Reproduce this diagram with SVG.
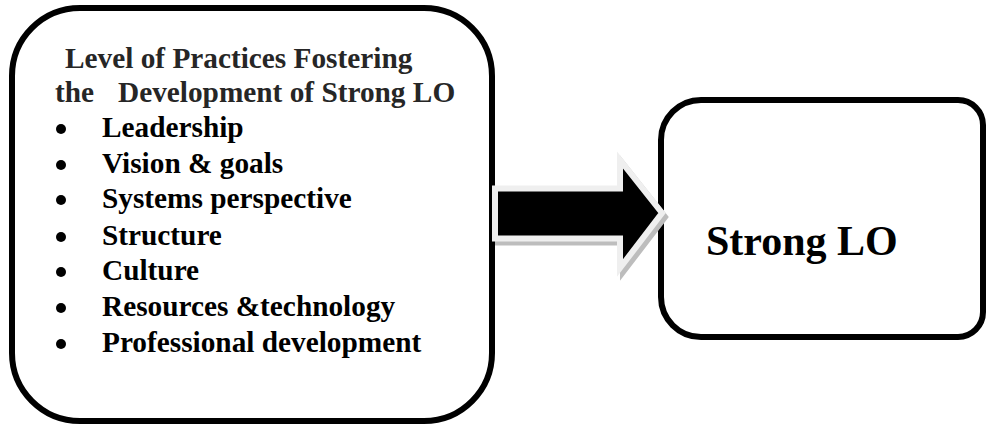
<svg xmlns="http://www.w3.org/2000/svg" width="986" height="425" viewBox="0 0 986 425">
<style>
.box{fill:#fff;stroke:#000;stroke-width:6}
.t{font-family:"Liberation Serif","Times New Roman",serif;font-weight:bold;font-size:29.3px;fill:#000}
.title{fill:#262626}
.bullet{fill:#000}
.big{font-family:"Liberation Serif","Times New Roman",serif;font-weight:bold;font-size:42px;fill:#000}
</style>
<rect width="986" height="425" fill="#fff"/>
<g id="node-practices">
<rect class="box" x="12" y="8" width="480" height="413" rx="68" ry="68"/>
<text class="t title" x="65" y="68">Level of Practices Fostering</text>
<text class="t title" y="102"><tspan x="55">the</tspan><tspan x="118">Development of Strong LO</tspan></text>
<g class="bullet">
<circle cx="61" cy="129" r="5"/>
<circle cx="61" cy="165" r="5"/>
<circle cx="61" cy="200" r="5"/>
<circle cx="61" cy="237" r="5"/>
<circle cx="61" cy="272" r="5"/>
<circle cx="61" cy="308" r="5"/>
<circle cx="61" cy="344" r="5"/>
</g>
<text class="t" x="102" y="137">Leadership</text>
<text class="t" x="102" y="173">Vision &amp; goals</text>
<text class="t" x="102" y="208">Systems perspective</text>
<text class="t" x="102" y="245">Structure</text>
<text class="t" x="102" y="280">Culture</text>
<text class="t" x="102" y="316">Resources &amp;technology</text>
<text class="t" x="102" y="352">Professional development</text>
</g>
<g id="node-strong-lo">
<path class="box" d="M701,100 H958 A25,25 0 0 1 983,125 V312 A25,25 0 0 1 958,337 H701 A40,40 0 0 1 661,297 V140 A40,40 0 0 1 701,100 Z"/>
<text class="big" x="706" y="255">Strong LO</text>
</g>
<g id="connectors">
<polygon points="495,188.5 620,188.5 620,160 662,213 620,268 620,238.5 495,238.5" transform="translate(3,4)" fill="#bdbdbd" stroke="#bdbdbd" stroke-width="6" stroke-linejoin="miter"/>
<polygon points="495,188.5 620,188.5 620,160 662,213 620,268 620,238.5 495,238.5" fill="#000" stroke="#efefef" stroke-width="6" stroke-linejoin="miter"/>
</g>
</svg>
